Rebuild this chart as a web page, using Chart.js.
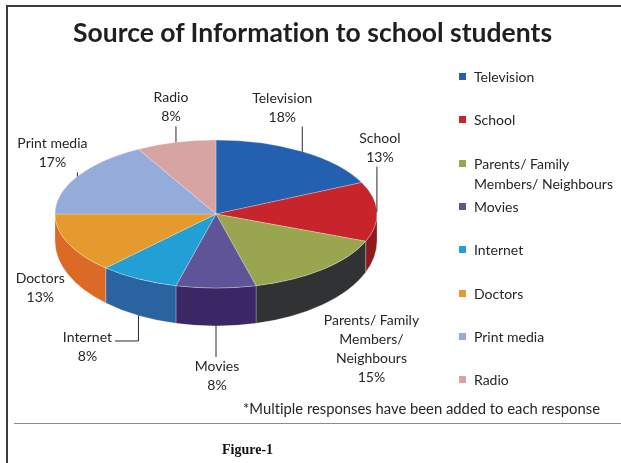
<!DOCTYPE html>
<html>
<head>
<meta charset="utf-8">
<script src="https://cdn.jsdelivr.net/npm/chart.js@4.4.0/dist/chart.umd.min.js"></script>
<style>
  body { margin: 0; background: #fff; }
  #wrap { position: relative; width: 621px; height: 463px; overflow: hidden; font-family: Lato, "Open Sans", sans-serif; color: #262626; font-variant-ligatures: none; }
  #pie { position: absolute; left: 0; top: 0; }
  .edge-left { position: absolute; left: 6px; top: 5px; width: 2px; height: 470px; background: #3a3a3a; }
  .edge-top { position: absolute; left: 6px; top: 5px; width: 630px; height: 2px; background: #3a3a3a; }
  .rule { position: absolute; left: 14px; top: 423px; width: 620px; height: 1px; background: #8c8c8c; }
  #title { position: absolute; left: 0; top: 16px; width: 625px; text-align: center; font-weight: bold; font-size: 26.5px; line-height: 32px; color: #1f1f1f; }
  .key { position: absolute; left: 459px; font-size: 14px; line-height: 20px; }
  .key i { position: absolute; left: 0; top: 6px; width: 7px; height: 7px; }
  .key span { position: absolute; left: 15px; top: 0; width: 140px; }
  #note { position: absolute; left: 243px; top: 398px; font-size: 14.8px; line-height: 20px; white-space: nowrap; }
  #fig { position: absolute; left: 222px; top: 441px; font-family: "Liberation Serif", serif; font-weight: bold; font-size: 14px; line-height: 18px; color: #111; }
</style>
</head>
<body>
<div id="wrap">
  <canvas id="pie" width="621" height="463"></canvas>
  <div class="edge-left"></div>
  <div class="edge-top"></div>
  <div id="title">Source of Information to school students</div>
  <div id="legend"></div>
  <div id="note">*Multiple responses have been added to each response</div>
  <div class="rule"></div>
  <div id="fig">Figure-1</div>
</div>
<script>
const categories = ["Television", "School", "Parents/ Family Members/ Neighbours", "Movies", "Internet", "Doctors", "Print media", "Radio"];
const shares = [18, 13, 15, 8, 8, 13, 17, 8];

const topColors = ["#2360b0", "#c8242b", "#9aa64f", "#5f5498", "#22a0d6", "#e49a2c", "#95abda", "#d8a4a3"];
const sideColors = ["#1a4a8a", "#8e1a1f", "#303233", "#3b2666", "#2b62a0", "#db6a27", "#6f86b8", "#b07c7b"];

// label block offset from the slice's outer edge point, and which labels get a leader line
const labelNudge = [[-20, -44], [3, -64], [49, 44], [1, 50], [-51, 31], [-28, 13], [-25, -23], [-5, -35]];
const withLeader = [true, true, false, true, true, false, true, true];

const TILT = 74 / 161;   // vertical squash of the top face
const DEPTH = 27;        // wall height at the left/right extremes
const FRONT_GROW = 11;   // extra wall height toward the viewer
const LABEL_FONT = '14px Lato, "Open Sans", sans-serif';
const LINE_H = 19;

function ellipseGeom(chart) {
  const arc = chart.getDatasetMeta(0).data[0];
  const rx = arc.outerRadius;
  return { cx: arc.x, cy: arc.y, rx: rx, ry: rx * TILT, by: arc.y + DEPTH, bry: rx * TILT + FRONT_GROW };
}

const pie3d = {
  id: 'pie3d',
  beforeDatasetsDraw(chart) {
    const ctx = chart.ctx;
    const g = ellipseGeom(chart);
    const arcs = chart.getDatasetMeta(0).data;
    // front walls: only the part of each slice between 0 and PI (canvas angles) faces us
    arcs.forEach((arc, i) => {
      const lo = Math.max(arc.startAngle, 0);
      const hi = Math.min(arc.endAngle, Math.PI);
      if (hi <= lo) return;
      ctx.beginPath();
      ctx.ellipse(g.cx, g.cy, g.rx, g.ry, 0, lo, hi, false);
      ctx.ellipse(g.cx, g.by, g.rx, g.bry, 0, hi, lo, true);
      ctx.closePath();
      ctx.fillStyle = sideColors[i];
      ctx.fill();
      ctx.strokeStyle = 'rgba(255,255,255,0.25)';
      ctx.lineWidth = 1;
      ctx.stroke();
    });
    ctx.save();
    ctx.translate(g.cx, g.cy);
    ctx.scale(1, TILT);
    ctx.translate(-g.cx, -g.cy);
  },
  afterDatasetsDraw(chart) {
    chart.ctx.restore();
  }
};

function wrapText(ctx, text, maxW) {
  const words = text.split(' ');
  const lines = [];
  let cur = '';
  words.forEach((w) => {
    const test = cur ? cur + ' ' + w : w;
    if (cur && ctx.measureText(test).width > maxW) {
      lines.push(cur);
      cur = w;
    } else {
      cur = test;
    }
  });
  lines.push(cur);
  return lines;
}

const sliceLabels = {
  id: 'sliceLabels',
  afterDraw(chart) {
    const ctx = chart.ctx;
    const g = ellipseGeom(chart);
    const arcs = chart.getDatasetMeta(0).data;
    const values = chart.data.datasets[0].data;
    ctx.save();
    ctx.font = LABEL_FONT;
    ctx.textAlign = 'center';
    ctx.textBaseline = 'middle';
    arcs.forEach((arc, i) => {
      const m = (arc.startAngle + arc.endAngle) / 2;
      const s = Math.sin(m);
      const ax = g.cx + g.rx * Math.cos(m);
      const ay = s > 0 ? g.by + g.bry * s : g.cy + g.ry * s;
      const lines = wrapText(ctx, chart.data.labels[i], 105);
      lines.push(values[i] + '%');
      const lx = ax + labelNudge[i][0];
      const ly = ay + labelNudge[i][1];
      const h = lines.length * LINE_H;
      const w = Math.max(...lines.map((t) => ctx.measureText(t).width));
      const box = { x0: lx - w / 2 - 3, x1: lx + w / 2 + 3, y0: ly - h / 2, y1: ly + h / 2 };

      if (withLeader[i]) {
        ctx.beginPath();
        ctx.moveTo(ax, ay);
        if (ax >= box.x0 && ax <= box.x1) {
          ctx.lineTo(ax, ay < box.y0 ? box.y0 : box.y1);
        } else {
          const ty = box.y0 + LINE_H / 2 + 4;
          ctx.lineTo(ax, ty);
          ctx.lineTo(ax < box.x0 ? box.x0 : box.x1, ty);
        }
        ctx.strokeStyle = '#2a2a2a';
        ctx.lineWidth = 1;
        ctx.stroke();
      }

      ctx.fillStyle = '#262626';
      lines.forEach((t, k) => {
        ctx.fillText(t, lx, box.y0 + LINE_H * (k + 0.5));
      });
    });
    ctx.restore();
  }
};

const chart = new Chart(document.getElementById('pie'), {
  type: 'pie',
  data: {
    labels: categories,
    datasets: [{
      data: shares,
      backgroundColor: topColors,
      borderColor: 'rgba(255,255,255,0.35)',
      borderWidth: 1,
      radius: 161
    }]
  },
  options: {
    responsive: false,
    animation: false,
    events: [],
    layout: { padding: { left: 55, right: 244, top: 53, bottom: 88 } },
    plugins: {
      legend: { display: false },
      tooltip: { enabled: false }
    }
  },
  plugins: [pie3d, sliceLabels]
});

// legend on the right, one row per category
const legend = document.getElementById('legend');
chart.data.labels.forEach((label, i) => {
  const row = document.createElement('div');
  row.className = 'key';
  row.style.top = (67 + i * 43.3) + 'px';
  const sw = document.createElement('i');
  sw.style.background = topColors[i];
  const txt = document.createElement('span');
  txt.textContent = label;
  row.appendChild(sw);
  row.appendChild(txt);
  legend.appendChild(row);
});
</script>
</body>
</html>
